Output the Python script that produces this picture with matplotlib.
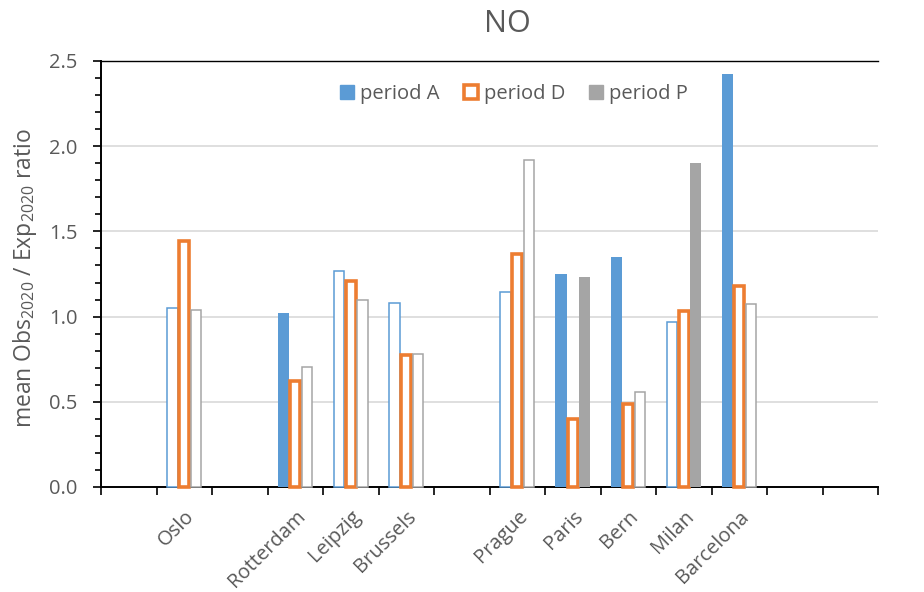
import numpy as np
import matplotlib
matplotlib.use("Agg")
import matplotlib.pyplot as plt
from matplotlib.patches import Patch
from matplotlib.ticker import MultipleLocator, FixedLocator, FormatStrFormatter

plt.rcParams['font.family'] = ['Open Sans', 'DejaVu Sans']
plt.rcParams['mathtext.fontset'] = 'custom'
plt.rcParams['mathtext.rm'] = 'Open Sans'

# ---- data ----
slots = ["", "Oslo", "", "Rotterdam", "Leipzig", "Brussels", "", "Prague",
         "Paris", "Bern", "Milan", "Barcelona", "", ""]
nan = np.nan
period_A = [nan, 1.05, nan, 1.02, 1.27, 1.08, nan, 1.145, 1.25, 1.35, 0.97, 2.425, nan, nan]
period_D = [nan, 1.445, nan, 0.625, 1.21, 0.775, nan, 1.365, 0.40, 0.49, 1.03, 1.18, nan, nan]
period_P = [nan, 1.04, nan, 0.705, 1.10, 0.78, nan, 1.92, 1.23, 0.555, 1.90, 1.075, nan, nan]
# filled = True means solid bar, False means outlined bar
filled_A = [False, False, False, True, False, False, False, False, True, True, False, True, False, False]
filled_D = [False] * 14
filled_P = [False, False, False, False, False, False, False, False, True, False, True, False, False, False]
series_names = ["period A", "period D", "period P"]

colors = ["#5B9BD5", "#ED7D31", "#A5A5A5"]
edge_lw = [1.1, 2.6, 1.1]

fig = plt.figure(figsize=(9.24, 5.92), dpi=100)
ax = fig.add_axes([101/924, 1-487/592, (878-101)/924, (487-61)/592])

x = np.arange(len(slots))
w = 0.21
offsets = [-w, 0.0, w]
for vals, flags, col, lw, off in zip([period_A, period_D, period_P],
                                     [filled_A, filled_D, filled_P],
                                     colors, edge_lw, offsets):
    for xi, v, f in zip(x, vals, flags):
        if np.isnan(v):
            continue
        ax.bar(xi + off, v, width=w * (0.88 if not f else 1.0), bottom=0,
               facecolor=col if f else "white", edgecolor=col,
               linewidth=0 if f else lw, zorder=3, clip_on=False)

ax.set_xlim(-0.5, len(slots) - 0.5)
ax.set_ylim(0, 2.5)

# y axis
ax.yaxis.set_major_locator(MultipleLocator(0.5))
ax.yaxis.set_minor_locator(MultipleLocator(0.1))
ax.yaxis.set_major_formatter(FormatStrFormatter('%.1f'))
ax.tick_params(axis='y', which='major', direction='out', length=6, width=1.2,
               colors='black', labelcolor='#595959', labelsize=14.5, pad=11)
ax.tick_params(axis='y', which='minor', direction='out', length=4, width=1.2, colors='black')
ax.grid(axis='y', which='major', color='#D9D9D9', linewidth=1.2, zorder=0)

# x axis: tick marks at slot boundaries, labels at centers
ax.xaxis.set_major_locator(FixedLocator(x))
ax.xaxis.set_minor_locator(FixedLocator(np.arange(len(slots) + 1) - 0.5))
ax.set_xticklabels(slots, rotation=45, ha='right', va='top', rotation_mode='anchor',
                   color='#595959', fontsize=14.5)
ax.tick_params(axis='x', which='major', length=0, pad=14)
ax.tick_params(axis='x', which='minor', direction='out', length=6, width=1.2, colors='black')

for s in ['left', 'bottom', 'top']:
    ax.spines[s].set_color('black')
    ax.spines[s].set_linewidth(1.4)
ax.spines['top'].set_linewidth(1.0)
ax.spines['right'].set_visible(False)

ax.set_ylabel(r"mean Obs$\mathregular{_{2020}}$ / Exp$\mathregular{_{2020}}$ ratio",
              fontsize=16.5, color='#595959')
ax.yaxis.set_label_coords((39 - 101) / 777, (487 - 278) / 426)
fig.suptitle("NO", x=507/924, y=1-9/592, fontsize=22, color='#595959', va='top')

handles = [Patch(facecolor=colors[0], edgecolor=colors[0]),
           Patch(facecolor='white', edgecolor=colors[1], linewidth=2.6),
           Patch(facecolor=colors[2], edgecolor=colors[2])]
leg = fig.legend(handles, series_names, loc='center', bbox_to_anchor=(514/924, 1-94/592),
                 ncol=3, frameon=False, fontsize=14.5, handlelength=0.7, handleheight=0.7,
                 handletextpad=0.3, columnspacing=1.2, borderpad=0)
for t in leg.get_texts():
    t.set_color('#595959')

fig.savefig("out.png", dpi=100)
